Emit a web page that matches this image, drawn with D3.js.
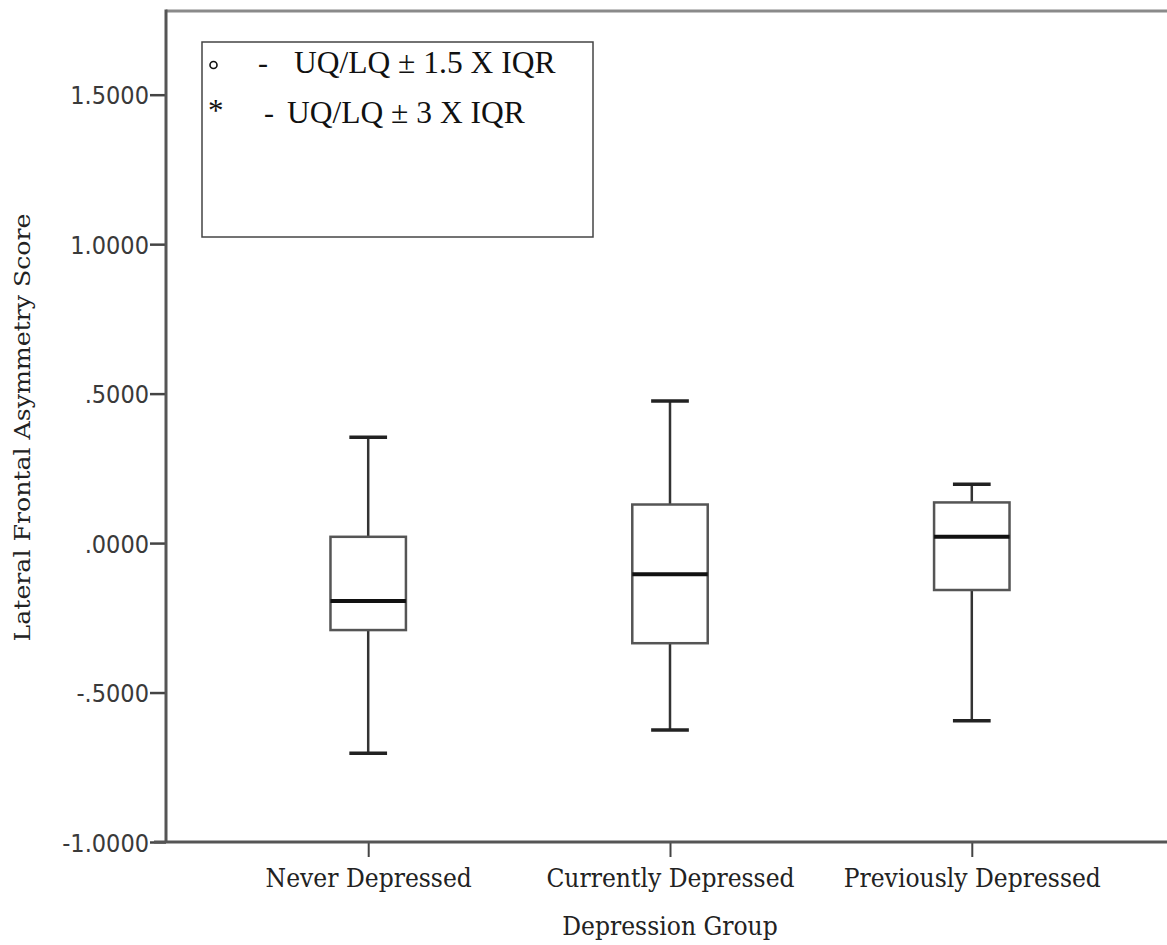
<!DOCTYPE html>
<html>
<head>
<meta charset="utf-8">
<script src="https://cdn.jsdelivr.net/npm/d3@7"></script>
<style>
  html, body { margin: 0; padding: 0; background: #fff; }
  svg { display: block; }
  .ytick text { font-family: "DejaVu Sans Condensed", "DejaVu Sans", sans-serif; font-stretch: condensed; font-size: 25px; fill: #3a3a3a; }
  .serif { font-family: "DejaVu Serif", serif; fill: #222; }
  .legend { font-family: "Liberation Serif", "Times New Roman", serif; fill: #111; }
</style>
</head>
<body>
<svg id="chart" width="1167" height="945"></svg>
<script>
// Depression groups on the x axis
const groups = ["Never Depressed", "Currently Depressed", "Previously Depressed"];

// Five-number summaries of the lateral frontal asymmetry score per group
const whiskerLow  = [-0.703, -0.625, -0.594];
const quartile1   = [-0.291, -0.335, -0.157];
const medians     = [-0.194, -0.104,  0.021];
const quartile3   = [ 0.021,  0.129,  0.136];
const whiskerHigh = [ 0.354,  0.475,  0.197];

// Y axis tick values and their printed labels
const yTicks = [-1.0, -0.5, 0.0, 0.5, 1.0, 1.5];
const yTickLabels = ["-1.0000", "-.5000", ".0000", ".5000", "1.0000", "1.5000"];

// Legend entries: outlier rule text for each marker
const legendRules = ["UQ/LQ \u00B1 1.5 X IQR", "UQ/LQ \u00B1 3 X IQR"];

const svg = d3.select("#chart");

const plotLeft = 166, plotRight = 1174, plotTop = 11, plotBottom = 842;
const stretch = 1.12; // labels are drawn slightly taller than wide

const y = d3.scaleLinear().domain([-1, 1.78]).range([plotBottom, plotTop]);
const x = d3.scalePoint().domain(groups).range([plotLeft, plotRight]).padding(0.67);

// Top frame line
svg.append("line")
  .attr("x1", plotLeft).attr("x2", 1167)
  .attr("y1", plotTop).attr("y2", plotTop)
  .attr("stroke", "#8a8a8a").attr("stroke-width", 3);

// Y axis
const yAxis = d3.axisLeft(y)
  .tickValues(yTicks)
  .tickSize(16)
  .tickPadding(1)
  .tickFormat((d, i) => yTickLabels[i]);

const gy = svg.append("g")
  .attr("class", "ytick")
  .attr("transform", `translate(${plotLeft},0)`)
  .call(yAxis);
gy.select(".domain").remove();
gy.selectAll(".tick line").attr("stroke", "#444").attr("stroke-width", 2.5);
gy.selectAll(".tick text").attr("dy", "0.36em");

svg.append("line")
  .attr("x1", plotLeft).attr("x2", plotLeft)
  .attr("y1", plotTop - 1.5).attr("y2", plotBottom + 1)
  .attr("stroke", "#555").attr("stroke-width", 3);

// X axis
const xAxis = d3.axisBottom(x).tickSize(15);
const gx = svg.append("g")
  .attr("transform", `translate(0,${plotBottom})`)
  .call(xAxis);
gx.select(".domain").remove();
gx.selectAll(".tick line").attr("stroke", "#444").attr("stroke-width", 2);
gx.selectAll(".tick text")
  .attr("class", "serif")
  .attr("font-size", 23.5)
  .attr("dy", 0)
  .attr("y", 45 / stretch)
  .attr("transform", `scale(1,${stretch})`);

svg.append("line")
  .attr("x1", plotLeft - 12).attr("x2", 1167)
  .attr("y1", plotBottom).attr("y2", plotBottom)
  .attr("stroke", "#555").attr("stroke-width", 3);

// Axis titles
svg.append("text")
  .attr("class", "serif")
  .attr("transform", `translate(${x(groups[1])},935) scale(1,${stretch})`)
  .attr("text-anchor", "middle")
  .attr("font-size", 23.5)
  .text("Depression Group");

svg.append("text")
  .attr("class", "serif")
  .attr("transform", `translate(30,${(plotTop + plotBottom) / 2 + 1}) rotate(-90) scale(${stretch},1)`)
  .attr("text-anchor", "middle")
  .attr("font-size", 22.5)
  .text("Lateral Frontal Asymmetry Score");

// Box plots
const boxW = x.step() * 0.25;
const capW = boxW / 2;
const boxes = svg.append("g").selectAll("g")
  .data(groups.map((g, i) => ({
    g, lo: whiskerLow[i], q1: quartile1[i], med: medians[i], q3: quartile3[i], hi: whiskerHigh[i]
  })))
  .join("g")
  .attr("transform", d => `translate(${x(d.g)},0)`);

// whisker stems
boxes.append("line")
  .attr("x1", 0).attr("x2", 0)
  .attr("y1", d => y(d.hi)).attr("y2", d => y(d.q3))
  .attr("stroke", "#333").attr("stroke-width", 2.5);
boxes.append("line")
  .attr("x1", 0).attr("x2", 0)
  .attr("y1", d => y(d.q1)).attr("y2", d => y(d.lo))
  .attr("stroke", "#333").attr("stroke-width", 2.5);
// whisker caps
boxes.append("line")
  .attr("x1", -capW / 2).attr("x2", capW / 2)
  .attr("y1", d => y(d.hi)).attr("y2", d => y(d.hi))
  .attr("stroke", "#222").attr("stroke-width", 3.5);
boxes.append("line")
  .attr("x1", -capW / 2).attr("x2", capW / 2)
  .attr("y1", d => y(d.lo)).attr("y2", d => y(d.lo))
  .attr("stroke", "#222").attr("stroke-width", 3.5);
// boxes
boxes.append("rect")
  .attr("x", -boxW / 2).attr("width", boxW)
  .attr("y", d => y(d.q3)).attr("height", d => y(d.q1) - y(d.q3))
  .attr("fill", "#fff").attr("stroke", "#555").attr("stroke-width", 2.5);
// medians
boxes.append("line")
  .attr("x1", -boxW / 2).attr("x2", boxW / 2)
  .attr("y1", d => y(d.med)).attr("y2", d => y(d.med))
  .attr("stroke", "#111").attr("stroke-width", 4);

// Legend
const lg = svg.append("g");
lg.append("rect")
  .attr("x", 202).attr("y", 42)
  .attr("width", 391).attr("height", 195)
  .attr("fill", "#fff").attr("stroke", "#444").attr("stroke-width", 1.5);

// first entry: open circle marker
lg.append("circle")
  .attr("cx", 213.5).attr("cy", 65).attr("r", 3.5)
  .attr("fill", "none").attr("stroke", "#111").attr("stroke-width", 1.6);
lg.append("text").attr("class", "legend").attr("font-size", 30)
  .attr("x", 258).attr("y", 73).text("-");
lg.append("text").attr("class", "legend").attr("font-size", 31.5)
  .attr("x", 294).attr("y", 73).text(legendRules[0]);

// second entry: asterisk marker
lg.append("text").attr("class", "legend").attr("font-size", 31)
  .attr("x", 208).attr("y", 121).text("*");
lg.append("text").attr("class", "legend").attr("font-size", 30)
  .attr("x", 264).attr("y", 123).text("-");
lg.append("text").attr("class", "legend").attr("font-size", 31.5)
  .attr("x", 287).attr("y", 123).text(legendRules[1]);
</script>
</body>
</html>
